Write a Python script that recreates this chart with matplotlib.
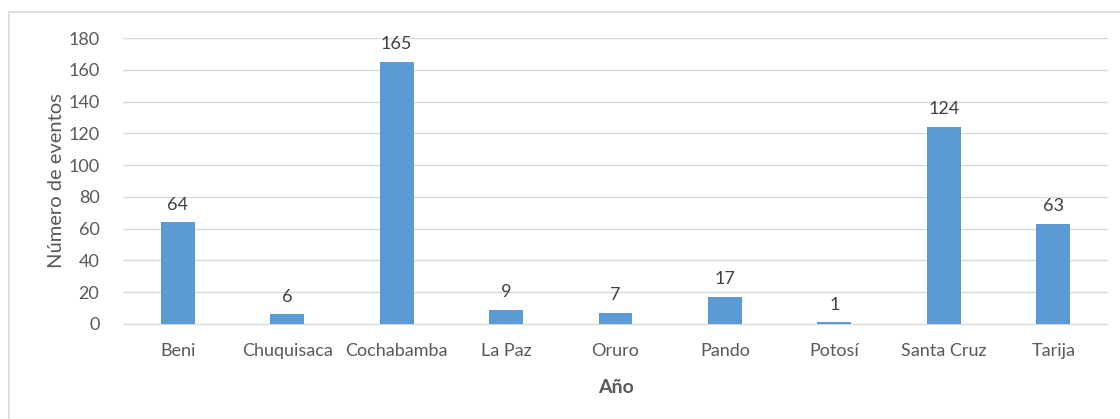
import matplotlib.pyplot as plt
from matplotlib.patches import Rectangle

# Data
departamentos = ["Beni", "Chuquisaca", "Cochabamba", "La Paz", "Oruro",
                 "Pando", "Potosí", "Santa Cruz", "Tarija"]
eventos = [64, 6, 165, 9, 7, 17, 1, 124, 63]
y_ticks = [0, 20, 40, 60, 80, 100, 120, 140, 160, 180]

plt.rcParams["font.family"] = ["Lato", "DejaVu Sans"]
text_color = "#595959"
bar_color = "#5B9BD5"
grid_color = "#D9D9D9"

fig = plt.figure(figsize=(11.2, 4.19), dpi=100)
fig.patch.set_facecolor("white")

# chart outer frame
fig.patches.append(Rectangle((9 / 1120, -0.05), 1.2, 1 - 12 / 419 + 0.05,
                             transform=fig.transFigure, fill=False,
                             edgecolor="#D9D9D9", linewidth=1.2, zorder=0))

ax = fig.add_axes([123 / 1120, 1 - 324 / 419, (1108 - 123) / 1120, (324 - 38) / 419])

x = range(len(departamentos))
ax.bar(x, eventos, width=0.31, color=bar_color, zorder=3)
for xi, v in zip(x, eventos):
    ax.text(xi, v + 6, str(v), ha="center", va="bottom", fontsize=13, color="#404040")

ax.set_xlim(-0.5, len(departamentos) - 0.5)
ax.set_ylim(0, 180)
ax.set_yticks(y_ticks)
ax.set_xticks(list(x))
ax.set_xticklabels(departamentos)
ax.tick_params(axis="both", length=0, labelsize=13, labelcolor=text_color)
ax.tick_params(axis="x", pad=14)
ax.tick_params(axis="y", pad=17)

ax.grid(axis="y", color=grid_color, linewidth=1, zorder=0)
for s in ["top", "right", "left"]:
    ax.spines[s].set_visible(False)
ax.spines["bottom"].set_color(grid_color)

ax.set_xlabel("Año", fontsize=14, fontweight="bold", color=text_color, labelpad=14)
ax.set_ylabel("Número de eventos", fontsize=14.5, color=text_color, labelpad=2)

fig.savefig("out.png", dpi=100, facecolor="white")
